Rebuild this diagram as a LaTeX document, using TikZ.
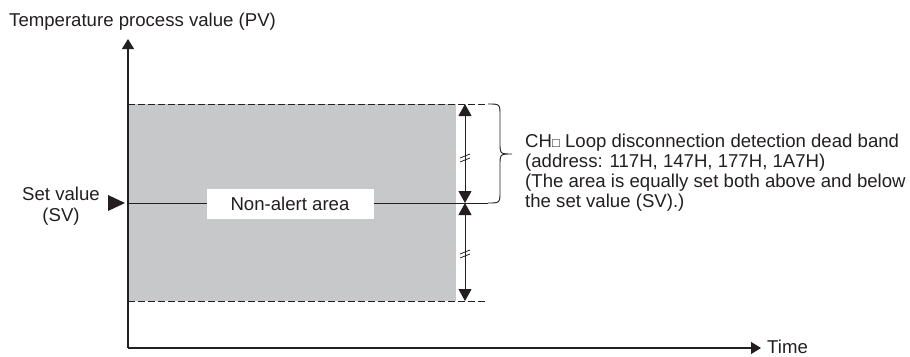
\documentclass[tikz,border=0pt]{standalone}
\usepackage{fontspec}
\setmainfont{Liberation Sans}
\usetikzlibrary{arrows.meta,positioning,calc}
\definecolor{bandgray}{HTML}{C7C8CA}
\definecolor{ink}{HTML}{231F20}
\newcommand{\chbox}{{\fontsize{13}{13}\selectfont □}}

\begin{document}
\begin{tikzpicture}[x=1pt, y=-1pt,
  every node/.style={font=\fontsize{18.6}{20}\selectfont, text=ink, inner sep=0pt},
  axis/.style={line width=1.2pt, draw=ink, -{Triangle[width=12pt,length=10pt]}},
  limit/.style={line width=1pt, draw=ink, dash pattern=on 6.5pt off 3.5pt},
  dim/.style={line width=1pt, draw=ink, {Triangle[width=13pt,length=12pt]}-{Triangle[width=13pt,length=12pt]}}]
\useasboundingbox (0,0) rectangle (910,356);

% band and limits
\fill[bandgray] (128,104) rectangle (456,301);
\draw[limit] (128,104) -- (487,104);
\draw[limit] (128,301) -- (487,301);

% axes
\coordinate (origin) at (128,348);
\coordinate (ytip) at (128,39);
\coordinate (xtip) at (761,348);
\draw[axis] (origin) -- (ytip);
\draw[axis] (origin) -- (xtip);
\node[anchor=west] (pvlabel) at (9,22) {Temperature process value (PV)};
\node[anchor=west] (timelabel) at (767,347) {Time};

% set value
\coordinate (svstart) at (128,203);
\coordinate (svend) at (488,203);
\fill[ink] (108,195) -- (125,203) -- (108,211) -- cycle;
\draw[line width=1pt, ink] (svstart) -- (svend);
\node[align=center, font=\fontsize{18.6}{21}\selectfont] (svlabel) at (61,206) {Set value\\(SV)};
\node[fill=white, minimum width=167pt, minimum height=30pt] (nonalert) at (290,204) {Non-alert area};

% dead band arrows
\coordinate (dtop) at (465,104);
\coordinate (dmid) at (465,203);
\coordinate (dbot) at (465,301);
\draw[dim] (dtop) -- (dmid);
\draw[dim] (dmid) -- (dbot);
\foreach \y in {157,253} {
  \draw[line width=0.8pt, ink] (460,\y+1) -- (470,\y-3);
  \draw[line width=0.8pt, ink] (460,\y+5) -- (470,\y+1);
}

% brace
\coordinate (btip) at (512,154);
\draw[line width=0.9pt, ink] (488,104) .. controls (500,104) .. (500,116) -- (500,142)
  .. controls (500,154) .. (btip) .. controls (500,154) .. (500,166) -- (500,191)
  .. controls (500,203) .. (svend);

% dead band note
\foreach \n/\y/\txt in {l1/143/CH\chbox{} Loop disconnection detection dead band,
  l2/163/(address: 117H{,} 147H{,} 177H{,} 1A7H),
  l3/183/(The area is equally set both above and below,
  l4/203/the set value (SV).)}
  \node[anchor=west] (\n) at (525,\y) {\txt};
\end{tikzpicture}
\end{document}
